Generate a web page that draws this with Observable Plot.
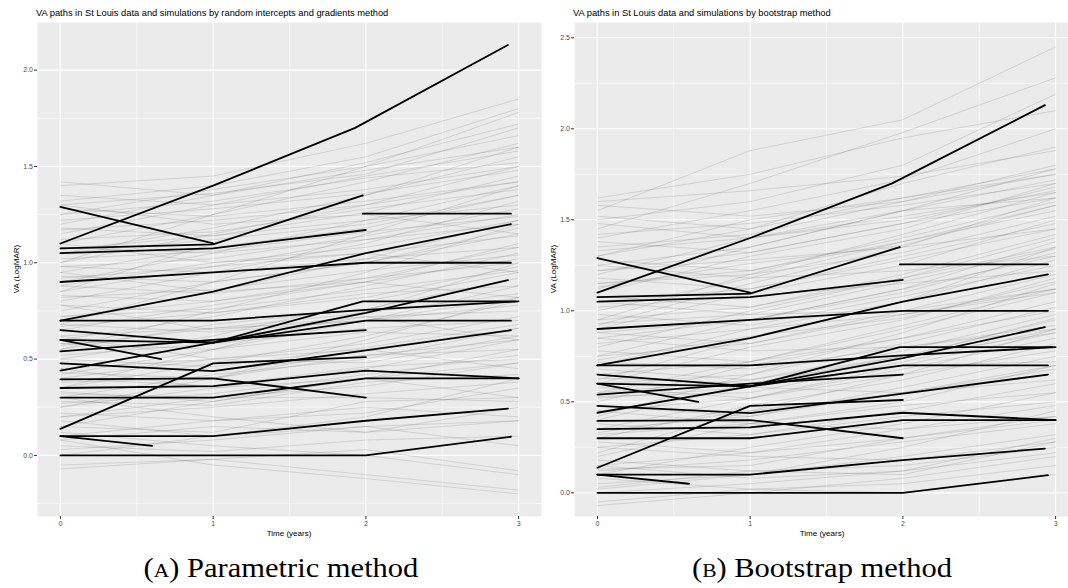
<!DOCTYPE html>
<html>
<head>
<meta charset="utf-8">
<script src="https://cdn.jsdelivr.net/npm/d3@7"></script>
<script src="https://cdn.jsdelivr.net/npm/@observablehq/plot@0.6"></script>
<style>
  html, body { margin:0; padding:0; background:#fff; }
  #root { position:relative; width:1068px; height:588px; overflow:hidden; background:#fff; font-family:"Liberation Sans", Arial, sans-serif; }
  .panel { position:absolute; top:0; }
  .title { position:absolute; font-size:9.3px; color:#000; white-space:nowrap; line-height:1; }
  .ytitle { position:absolute; font-size:8px; color:#000; white-space:nowrap; line-height:1; transform:translate(-50%,-50%) rotate(-90deg); }
  .xtitle { position:absolute; font-size:8px; color:#000; white-space:nowrap; line-height:1; transform:translate(-50%,-50%); }
  .caption { position:absolute; font-family:"Liberation Serif", "DejaVu Serif", serif; font-size:27px; color:#000; white-space:nowrap; line-height:1; transform:translate(-50%,-50%) scaleX(1.13); }
  .sc { font-variant:small-caps; }
</style>
</head>
<body>
<div id="root"></div>
<script>
// ---------- DATA ----------
const titles = [
  "VA paths in St Louis data and simulations by random intercepts and gradients method",
  "VA paths in St Louis data and simulations by bootstrap method"
];
const xLabel = "Time (years)";
const yLabel = "VA (LogMAR)";
const captionLetters = ["a", "b"];
const captionTexts = ["Parametric method", "Bootstrap method"];

const xTicks = [0, 1, 2, 3];
const xMinor = [0.5, 1.5, 2.5];
const yTicksA = [0, 0.5, 1, 1.5, 2];
const yMinorA = [-0.25, 0.25, 0.75, 1.25, 1.75];
const yTicksB = [0, 0.5, 1, 1.5, 2, 2.5];
const yMinorB = [0.25, 0.75, 1.25, 1.75, 2.25];

// St Louis observed paths (black): visit times and VA values
const patientTimes = [
  [0, 1, 1.93, 2.93],
  [0, 1],
  [0, 1, 1.98],
  [0, 1, 2],
  [1.98, 2.95],
  [0, 1, 2, 2.95],
  [0, 1, 2, 2.95],
  [0, 1, 2, 3],
  [0, 1, 2, 2.95],
  [0, 1, 1.98, 2.98],
  [0, 1, 2, 2.93],
  [0, 1, 2],
  [0, 0.66],
  [0, 1, 2, 2.95],
  [0, 1, 2],
  [0, 1, 2],
  [0, 1, 2, 3],
  [0, 1, 2, 3],
  [0, 1, 2, 2.93],
  [0, 0.6],
  [0, 1, 2, 2.95]
];
const patientVA = [
  [1.10, 1.40, 1.70, 2.13],
  [1.29, 1.10],
  [1.075, 1.095, 1.35],
  [1.05, 1.075, 1.17],
  [1.255, 1.255],
  [0.90, 0.95, 1.00, 1.00],
  [0.70, 0.85, 1.05, 1.20],
  [0.70, 0.70, 0.755, 0.80],
  [0.65, 0.585, 0.70, 0.70],
  [0.60, 0.585, 0.80, 0.80],
  [0.44, 0.585, 0.74, 0.91],
  [0.54, 0.60, 0.65],
  [0.60, 0.50],
  [0.478, 0.438, 0.545, 0.65],
  [0.138, 0.478, 0.51],
  [0.395, 0.40, 0.30],
  [0.35, 0.36, 0.44, 0.40],
  [0.30, 0.30, 0.40, 0.40],
  [0.10, 0.10, 0.18, 0.243],
  [0.10, 0.05],
  [0.0, 0.0, 0.0, 0.097]
];

// simulated paths (faint grey), values at simTimes
const simTimes = [0, 1, 2, 3];
const simParametric = [
  [0.05,0.02,0.08,0.10],[-0.05,-0.02,0.03,-0.08],[0.10,0.18,0.22,0.35],[0.15,0.12,0.28,0.30],
  [0.20,0.30,0.36,0.48],[0.22,0.18,0.25,0.20],[0.25,0.35,0.45,0.60],[0.28,0.26,0.38,0.42],
  [0.30,0.42,0.50,0.66],[0.32,0.30,0.30,0.28],[0.35,0.48,0.62,0.80],[0.38,0.40,0.52,0.55],
  [0.40,0.36,0.46,0.50],[0.42,0.55,0.70,0.82],[0.45,0.50,0.58,0.72],[0.48,0.44,0.52,0.60],
  [0.50,0.62,0.80,0.95],[0.52,0.58,0.66,0.70],[0.55,0.68,0.76,0.92],[0.58,0.55,0.64,0.62],
  [0.60,0.72,0.88,1.05],[0.62,0.66,0.74,0.84],[0.65,0.78,0.90,1.02],[0.68,0.64,0.70,0.78],
  [0.70,0.85,1.02,1.22],[0.72,0.76,0.86,0.96],[0.75,0.90,1.00,1.15],[0.78,0.74,0.84,0.88],
  [0.80,0.95,1.10,1.32],[0.82,0.86,0.96,1.04],[0.85,0.98,1.12,1.25],[0.88,0.84,0.92,1.00],
  [0.90,1.05,1.22,1.40],[0.92,0.98,1.05,1.14],[0.95,1.08,1.18,1.35],[0.98,0.95,1.02,1.08],
  [1.00,1.15,1.30,1.50],[1.02,1.06,1.16,1.24],[1.05,1.18,1.35,1.55],[1.08,1.05,1.12,1.20],
  [1.10,1.25,1.42,1.62],[1.12,1.16,1.28,1.38],[1.15,1.30,1.45,1.58],[1.18,1.14,1.22,1.30],
  [1.20,1.35,1.52,1.72],[1.22,1.28,1.36,1.48],[1.25,1.38,1.50,1.66],[1.28,1.24,1.32,1.42],
  [1.32,1.40,1.55,1.80],[1.35,1.30,1.38,1.50],[1.40,1.45,1.62,1.85],[1.42,1.35,1.48,1.60],
  [0.12,0.05,0.00,-0.10],[0.08,-0.05,-0.12,-0.20],[0.18,0.10,0.15,0.05],[0.00,0.10,0.20,0.40],
  [0.30,0.20,0.12,0.18],[0.45,0.35,0.40,0.30],[0.62,0.50,0.55,0.45],[0.78,0.65,0.72,0.60],
  [0.95,0.85,0.90,0.82],[1.10,1.00,1.05,0.95],[1.30,1.20,1.25,1.15],[0.55,0.75,0.95,1.20],
  [0.35,0.55,0.75,1.00],[0.85,1.10,1.35,1.60],[1.00,1.25,1.50,1.78],[0.25,0.40,0.60,0.82],
  [0.15,0.28,0.40,0.55],[0.68,0.90,1.15,1.40],[-0.07,-0.02,-0.10,-0.18],[0.40,0.50,0.48,0.62],
  [0.58,0.60,0.72,0.75],[0.88,1.00,1.08,1.22],[1.05,1.12,1.20,1.35],[0.72,0.80,0.92,1.08],
  [0.50,0.46,0.56,0.68],[0.20,0.25,0.32,0.38],[0.98,1.02,1.14,1.28],[1.25,1.32,1.44,1.52],
  [0.08,0.15,0.12,0.25],[0.33,0.28,0.40,0.48],[0.57,0.66,0.70,0.88],[0.83,0.80,0.90,1.10],
  [1.07,1.14,1.26,1.45],[1.30,1.36,1.46,1.70],[0.43,0.40,0.55,0.66],[0.67,0.74,0.82,0.98],
  [0.93,0.90,1.00,1.18],[1.17,1.22,1.30,1.42],[0.27,0.32,0.42,0.52],[0.03,0.08,0.15,0.18]
];
const simBootstrap = [
  [1.62,1.75,1.95,2.10],[1.55,1.88,2.05,2.45],[1.45,1.70,1.98,2.28],[1.50,1.60,1.80,2.19],
  [1.40,1.55,1.72,2.00],[1.35,1.42,1.60,1.80],[1.30,1.50,1.62,1.75],[1.25,1.35,1.55,1.72],
  [1.20,1.40,1.52,1.65],[1.15,1.22,1.40,1.60],[1.10,1.30,1.45,1.70],[1.05,1.12,1.30,1.48],
  [1.00,1.18,1.38,1.55],[0.95,1.02,1.20,1.42],[0.90,1.10,1.25,1.50],[0.85,0.95,1.12,1.30],
  [0.80,1.00,1.18,1.40],[0.75,0.82,1.00,1.20],[0.70,0.90,1.05,1.28],[0.65,0.72,0.90,1.10],
  [0.60,0.80,0.95,1.18],[0.55,0.62,0.78,0.98],[0.50,0.70,0.85,1.05],[0.45,0.52,0.68,0.85],
  [0.40,0.60,0.75,0.95],[0.35,0.42,0.58,0.75],[0.30,0.48,0.62,0.82],[0.25,0.32,0.45,0.60],
  [0.20,0.38,0.50,0.70],[0.15,0.22,0.35,0.48],[0.10,0.25,0.38,0.55],[0.05,0.10,0.20,0.32],
  [0.00,0.05,0.12,0.22],[-0.05,0.02,0.05,0.15],[0.08,0.02,0.00,0.10],[0.18,0.12,0.15,0.25],
  [0.28,0.22,0.30,0.40],[0.38,0.32,0.42,0.50],[0.48,0.42,0.55,0.62],[0.58,0.52,0.65,0.78],
  [0.68,0.62,0.75,0.88],[0.78,0.72,0.85,1.00],[0.88,0.82,0.98,1.12],[0.98,0.92,1.08,1.25],
  [1.08,1.02,1.18,1.35],[1.18,1.12,1.28,1.45],[1.28,1.22,1.38,1.58],[1.38,1.32,1.48,1.68],
  [1.48,1.40,1.55,1.62],[1.58,1.52,1.60,1.75],[0.62,0.85,1.05,1.35],[0.42,0.65,0.88,1.15],
  [0.92,1.15,1.35,1.62],[1.12,1.35,1.55,1.78],[0.22,0.45,0.65,0.90],[0.72,0.68,0.80,0.92],
  [0.52,0.58,0.70,0.72],[0.32,0.38,0.48,0.55],[0.12,0.18,0.28,0.38],[0.82,0.90,0.98,1.10],
  [1.02,1.08,1.15,1.22],[1.22,1.28,1.35,1.45],[1.42,1.48,1.58,1.70],[0.02,0.10,0.25,0.45],
  [0.25,0.20,0.18,0.28],[0.45,0.38,0.35,0.42],[0.65,0.58,0.55,0.68],[0.85,0.78,0.80,0.90],
  [1.05,0.98,1.00,1.12],[1.25,1.18,1.22,1.30],[0.55,0.72,0.92,1.12],[0.35,0.52,0.70,0.88],
  [0.75,0.95,1.12,1.38],[0.95,1.20,1.42,1.65],[1.30,1.45,1.70,1.90],[-0.07,0.00,0.08,0.20],
  [0.15,0.08,0.12,0.30],[0.60,0.65,0.82,1.02],[0.88,0.95,1.10,1.32],[1.15,1.20,1.32,1.52],
  [1.52,1.45,1.62,1.78],[1.33,1.40,1.50,1.66],[1.13,1.26,1.36,1.58],[0.93,0.98,1.16,1.34],
  [0.73,0.86,0.96,1.16],[0.53,0.55,0.72,0.90],[0.33,0.45,0.55,0.70],[0.13,0.15,0.30,0.42],
  [1.60,1.66,1.74,1.88],[0.03,0.12,0.10,0.28],[0.63,0.60,0.74,0.96],[1.22,1.32,1.48,1.62]
];

// ---------- BUILD ----------
const dataRows = patientTimes.flatMap((ts, i) => ts.map((t, j) => ({id: i, t, v: patientVA[i][j]})));
function simRowsOf(sims) {
  return sims.flatMap((s, i) => s.map((v, j) => ({id: i, t: simTimes[j], v})));
}

const H = 545;
function makePanel({sims, yDomain, yTicks, yMinor, width, marginLeft}) {
  return Plot.plot({
    width, height: H,
    marginLeft, marginRight: 0, marginTop: 22, marginBottom: H - 516,
    x: {domain: [-0.15, 3.15]},
    y: {domain: yDomain},
    style: {fontFamily: "'Liberation Sans', Arial, sans-serif", background: "transparent", overflow: "visible"},
    marks: [
      Plot.frame({fill: "#EBEBEB", stroke: "none"}),
      Plot.gridY(yMinor, {stroke: "#fff", strokeOpacity: 1, strokeWidth: 0.55}),
      Plot.gridX(xMinor, {stroke: "#fff", strokeOpacity: 1, strokeWidth: 0.55}),
      Plot.gridY(yTicks, {stroke: "#fff", strokeOpacity: 1, strokeWidth: 1.1}),
      Plot.gridX(xTicks, {stroke: "#fff", strokeOpacity: 1, strokeWidth: 1.1}),
      Plot.line(simRowsOf(sims), {x: "t", y: "v", z: "id", stroke: "#000", strokeOpacity: 0.18, strokeWidth: 0.65}),
      Plot.line(dataRows, {x: "t", y: "v", z: "id", stroke: "#000", strokeWidth: 1.8}),
      Plot.axisY(yTicks, {tickSize: 3, tickPadding: 1.5, fontSize: 7, tickFormat: d3.format(".1f"), label: null, stroke: "#333", fill: "#4D4D4D"}),
      Plot.axisX(xTicks, {tickSize: 3, tickPadding: 2, fontSize: 7, tickFormat: d3.format("d"), label: null, stroke: "#333", fill: "#4D4D4D"})
    ]
  });
}

const root = document.getElementById("root");
function place(el, left) { el.classList.add("panel"); el.style.left = left + "px"; root.appendChild(el); }

place(makePanel({sims: simParametric, yDomain: [-0.317, 2.247], yTicks: yTicksA, yMinor: yMinorA, width: 541, marginLeft: 37}), 0);
place(makePanel({sims: simBootstrap, yDomain: [-0.13, 2.584], yTicks: yTicksB, yMinor: yMinorB, width: 537, marginLeft: 33}), 541);

function addDiv(cls, html, left, top) {
  const d = document.createElement("div");
  d.className = cls; d.innerHTML = html;
  d.style.left = left + "px"; d.style.top = top + "px";
  root.appendChild(d); return d;
}
addDiv("title", titles[0], 36, 8.5);
addDiv("title", titles[1], 573, 8.5);
addDiv("ytitle", yLabel, 16.7, 269);
addDiv("ytitle", yLabel, 553.7, 269);
addDiv("xtitle", xLabel, 289, 534);
addDiv("xtitle", xLabel, 822, 534);
addDiv("caption", `<span class="sc">(${captionLetters[0]})</span> ${captionTexts[0]}`, 281, 568);
addDiv("caption", `<span class="sc">(${captionLetters[1]})</span> ${captionTexts[1]}`, 822, 568);
</script>
</body>
</html>
